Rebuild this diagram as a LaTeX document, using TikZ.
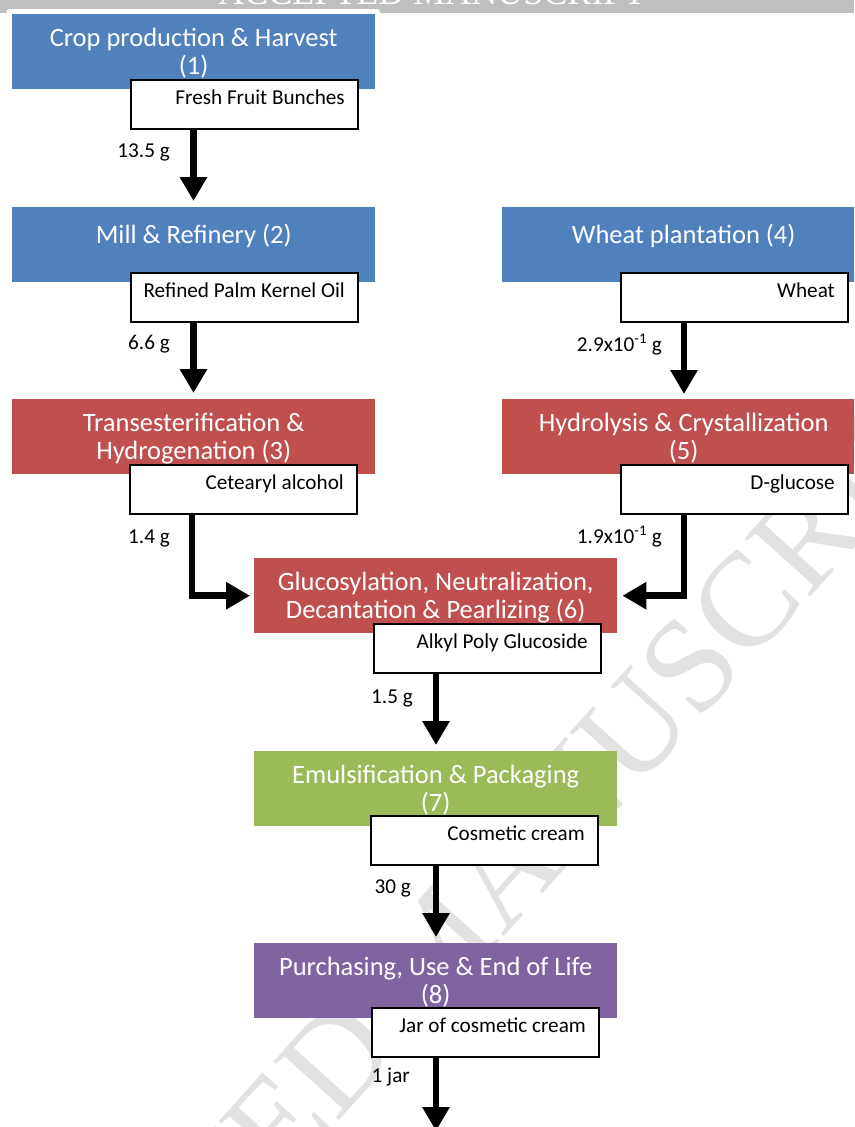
\documentclass[tikz,border=0pt]{standalone}
\usepackage{fontspec}
\setmainfont{Carlito}
\newfontfamily\wmfont{Liberation Serif}
\usetikzlibrary{arrows.meta}
\definecolor{pblue}{HTML}{4F81BD}
\definecolor{pred}{HTML}{C0504D}
\definecolor{pgreen}{HTML}{9BBB59}
\definecolor{ppurple}{HTML}{8064A2}
\definecolor{barGray}{HTML}{BFBFBF}
\definecolor{wmGray}{HTML}{E2E2E2}
\newcommand\proclines[1]{\parbox[t]{350pt}{\centering #1}}
\newcommand\prodtext[1]{\makebox[201pt][r]{#1}}
\tikzset{
  proc/.style={anchor=north west, inner sep=0pt, minimum width=363pt, text=white,
    font=\fontsize{26.5}{27.5}\selectfont, text height=32.5pt, text depth=42.5pt},
  procone/.style={proc, text height=36pt, text depth=39pt},
  sbox/.style={anchor=north west, draw=black, line width=1.6pt, fill=white,
    inner xsep=13pt, inner ysep=0pt,
    text height=25pt, text depth=24pt, font=\fontsize{21.2}{25}\selectfont},
  lbl/.style={anchor=base east, inner sep=0pt, font=\fontsize{21.2}{25}\selectfont},
  flow/.style={line width=6.5pt, -{Triangle[length=24pt,width=26pt]}}
}
\begin{document}
\begin{tikzpicture}[x=1pt,y=-1pt]
\useasboundingbox (0,0) rectangle (854,1127);
\clip (0,0) rectangle (854,1127);
\fill[white] (0,0) rectangle (854,1127);
% header bar
\fill[barGray] (0,0) rectangle (854,13);
\node[anchor=base, text=white, font=\wmfont\fontsize{36}{36}\selectfont, inner sep=0pt] (hdr) at (432,5) {ACCEPTED MANUSCRIPT};
\fill[white, rounded corners=3pt] (6.5,9) rectangle (380,30);
% watermark
\node[rotate=48, anchor=base, text=wmGray, font=\wmfont\fontsize{134}{134}\selectfont, inner sep=0pt] (wm) at (470,975) {ACCEPTED MANUSCRIPT};

% process boxes
\node[proc, fill=pblue] (p1) at (12,14) {\proclines{Crop production \& Harvest\\(1)}};
\node[procone, fill=pblue] (p2) at (12,207) {\proclines{Mill \& Refinery (2)}};
\node[proc, fill=pred] (p3) at (12,399) {\proclines{Transesterification \&\\Hydrogenation (3)}};
\node[procone, fill=pblue] (p4) at (502,207) {\proclines{Wheat plantation (4)}};
\node[proc, fill=pred] (p5) at (502,399) {\proclines{Hydrolysis \& Crystallization\\(5)}};
\node[proc, fill=pred] (p6) at (254,558) {\proclines{Glucosylation, Neutralization,\\Decantation \& Pearlizing (6)}};
\node[proc, fill=pgreen] (p7) at (254,751) {\proclines{Emulsification \& Packaging\\(7)}};
\node[proc, fill=ppurple] (p8) at (254,943) {\proclines{Purchasing, Use \& End of Life\\(8)}};

% product boxes
\node[sbox] (ffb) at (130,79) {\prodtext{Fresh Fruit Bunches}};
\node[sbox] (rpko) at (130,272) {\prodtext{Refined Palm Kernel Oil}};
\node[sbox] (cet) at (129,464) {\prodtext{Cetearyl alcohol}};
\node[sbox] (wheat) at (620,272) {\prodtext{Wheat}};
\node[sbox] (dglu) at (620,464) {\prodtext{D-glucose}};
\node[sbox] (apg) at (373,623) {\prodtext{Alkyl Poly Glucoside}};
\node[sbox] (cc) at (370,815) {\prodtext{Cosmetic cream}};
\node[sbox] (jar) at (371,1007) {\prodtext{Jar of cosmetic cream}};

% arrow start points
\coordinate (f1) at ([xshift=63.5pt]ffb.south west);
\coordinate (f2) at ([xshift=63.5pt]rpko.south west);
\coordinate (f3) at ([xshift=63pt]cet.south west);
\coordinate (f4) at ([xshift=64pt]wheat.south west);
\coordinate (f5) at ([xshift=64pt]dglu.south west);
\coordinate (f6) at ([xshift=63pt]apg.south west);
\coordinate (f7) at ([xshift=66pt]cc.south west);
\coordinate (f8) at ([xshift=65pt]jar.south west);
\coordinate (end) at (436,1131);

% connectors
\draw[flow] (f1) -- ([yshift=6pt]f1 |- p2.north);
\draw[flow] (f2) -- ([yshift=6pt]f2 |- p3.north);
\draw[flow] (f3) |- ([xshift=-4pt]p6.west);
\draw[flow] (f4) -- ([yshift=5pt]f4 |- p5.north);
\draw[flow] (f5) |- ([xshift=5pt]p6.east);
\draw[flow] (f6) -- ([yshift=6pt]f6 |- p7.north);
\draw[flow] (f7) -- ([yshift=6pt]f7 |- p8.north);
\draw[flow] (f8) -- (end);

% quantity labels
\node[lbl] (l1) at (170,157) {13.5 g};
\node[lbl] (l2) at (170,349) {6.6 g};
\node[lbl] (l3) at (170,543) {1.4 g};
\node[lbl] (l4) at (662,351) {2.9x10\textsuperscript{-1} g};
\node[lbl] (l5) at (662,543) {1.9x10\textsuperscript{-1} g};
\node[lbl] (l6) at (413,703) {1.5 g};
\node[lbl] (l7) at (411,893) {30 g};
\node[lbl] (l8) at (410,1082) {1 jar};
\end{tikzpicture}
\end{document}
